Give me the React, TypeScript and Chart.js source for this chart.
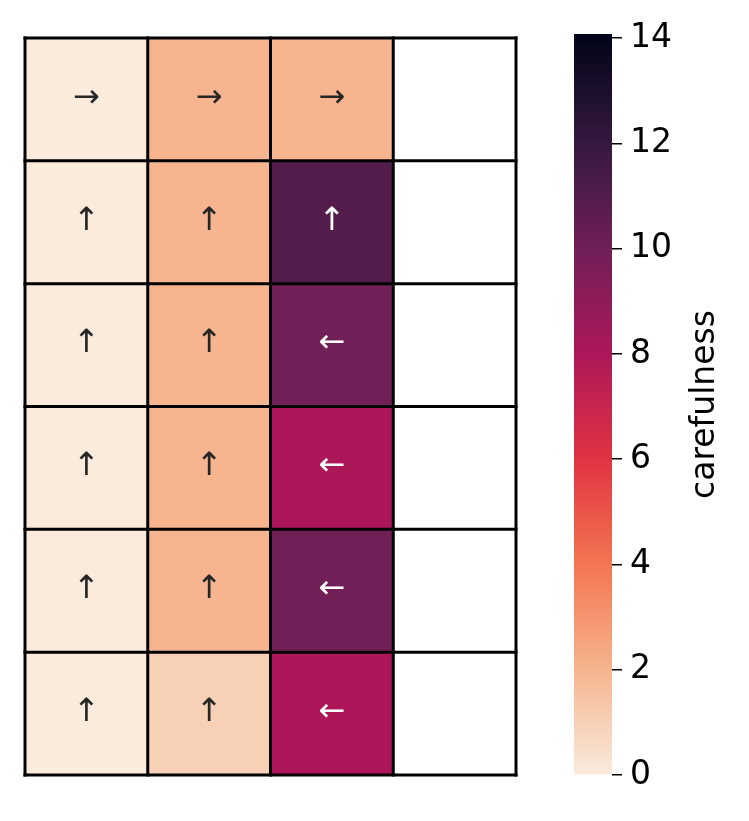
import React, { useEffect, useRef } from 'react';
import { Chart, registerables } from 'chart.js';

Chart.register(...registerables);

// ---- data ----
const columns = ['0', '1', '2', '3'];
const row0 = [0, 2, 2, NaN];
const row1 = [0, 2, 11, NaN];
const row2 = [0, 2, 10, NaN];
const row3 = [0, 2, 8, NaN];
const row4 = [0, 2, 10, NaN];
const row5 = [0, 1, 8, NaN];
const values = [row0, row1, row2, row3, row4, row5];

const arrows0 = ['→', '→', '→', ''];
const arrows1 = ['↑', '↑', '↑', ''];
const arrows2 = ['↑', '↑', '←', ''];
const arrows3 = ['↑', '↑', '←', ''];
const arrows4 = ['↑', '↑', '←', ''];
const arrows5 = ['↑', '↑', '←', ''];
const arrows = [arrows0, arrows1, arrows2, arrows3, arrows4, arrows5];

const vmin = 0;
const vmax = 14;
const cbTicks = [0, 2, 4, 6, 8, 10, 12, 14];
const cbTop = 14.08;
const cbLabel = 'carefulness';

// rocket colormap, dark -> light (rocket_r is reversed)
const rocketStops = ['#03051a', '#35193e', '#701f57', '#ad1759', '#e13342', '#f37651', '#f6b48f', '#faebdd'];

function hexToRgb(h: string): number[] {
  const s = h.replace('#', '');
  return [parseInt(s.slice(0, 2), 16), parseInt(s.slice(2, 4), 16), parseInt(s.slice(4, 6), 16)];
}

function rocketR(v: number): number[] {
  const t = Math.min(1, Math.max(0, (v - vmin) / (vmax - vmin)));
  const pos = (1 - t) * (rocketStops.length - 1);
  const i = Math.min(rocketStops.length - 2, Math.floor(pos));
  const f = pos - i;
  const a = hexToRgb(rocketStops[i]);
  const b = hexToRgb(rocketStops[i + 1]);
  return [0, 1, 2].map((k) => Math.round(a[k] + (b[k] - a[k]) * f));
}

function cellColor(v: number): string {
  if (Number.isNaN(v)) return '#ffffff';
  const c = rocketR(v);
  return `rgb(${c[0]},${c[1]},${c[2]})`;
}

function textColor(v: number): string {
  if (Number.isNaN(v)) return '#262626';
  const c = rocketR(v).map((x) => {
    const s = x / 255;
    return s <= 0.03928 ? s / 12.92 : Math.pow((s + 0.055) / 1.055, 2.4);
  });
  const lum = 0.2126 * c[0] + 0.7152 * c[1] + 0.0722 * c[2];
  return lum > 0.408 ? '#262626' : '#ffffff';
}

const gridPlugin = {
  id: 'cellGrid',
  afterDatasetsDraw(chart: any) {
    const ctx = chart.ctx;
    const xs = chart.scales.x;
    const ys = chart.scales.y;
    const area = chart.chartArea;
    ctx.save();
    ctx.strokeStyle = '#000000';
    ctx.lineWidth = 3;
    for (let j = 0; j <= columns.length; j++) {
      const px = xs.getPixelForValue(j - 0.5);
      ctx.beginPath();
      ctx.moveTo(px, area.top - 1.5);
      ctx.lineTo(px, area.bottom + 1.5);
      ctx.stroke();
    }
    for (let i = 0; i <= values.length; i++) {
      const py = ys.getPixelForValue(i);
      ctx.beginPath();
      ctx.moveTo(area.left - 1.5, py);
      ctx.lineTo(area.right + 1.5, py);
      ctx.stroke();
    }
    ctx.restore();
  },
};

const arrowPlugin = {
  id: 'arrowLabels',
  afterDatasetsDraw(chart: any) {
    const ctx = chart.ctx;
    ctx.save();
    ctx.font = '32px "DejaVu Sans"';
    ctx.textAlign = 'center';
    ctx.textBaseline = 'middle';
    values.forEach((row, i) => {
      const meta = chart.getDatasetMeta(i);
      row.forEach((v, j) => {
        const label = arrows[i][j];
        if (!label) return;
        const el = meta.data[j];
        const p = el.getProps(['x', 'y', 'base'], true);
        ctx.fillStyle = textColor(v);
        ctx.fillText(label, p.x, (p.y + p.base) / 2 - 1);
      });
    });
    ctx.restore();
  },
};

const cbTitlePlugin = {
  id: 'cbTitle',
  afterDraw(chart: any) {
    const { ctx, chartArea } = chart;
    ctx.save();
    ctx.font = '33px "DejaVu Sans"';
    ctx.fillStyle = '#000000';
    ctx.textAlign = 'center';
    ctx.textBaseline = 'middle';
    ctx.translate(chartArea.right + 93, (chartArea.top + chartArea.bottom) / 2);
    ctx.rotate(-Math.PI / 2);
    ctx.fillText(cbLabel, 0, 0);
    ctx.restore();
  },
};

export default function App() {
  const heatRef = useRef<HTMLCanvasElement | null>(null);
  const cbRef = useRef<HTMLCanvasElement | null>(null);

  useEffect(() => {
    const heat = new Chart(heatRef.current as HTMLCanvasElement, {
      type: 'bar',
      data: {
        labels: columns,
        datasets: values.map((row) => ({
          data: columns.map(() => 1),
          backgroundColor: row.map(cellColor),
          borderWidth: 0,
          barPercentage: 1,
          categoryPercentage: 1,
        })),
      },
      options: {
        responsive: false,
        animation: false,
        layout: { padding: { left: 25, top: 38, right: 233, bottom: 46 } },
        plugins: { legend: { display: false }, tooltip: { enabled: false } },
        scales: {
          x: { display: false, stacked: true },
          y: { display: false, stacked: true, reverse: true, min: 0, max: values.length },
        },
      } as any,
      plugins: [gridPlugin, arrowPlugin],
    });

    const cb = new Chart(cbRef.current as HTMLCanvasElement, {
      type: 'bar',
      data: {
        labels: ['cb'],
        datasets: [
          {
            data: [cbTop],
            backgroundColor: (c: any) => {
              const chart = c.chart;
              const area = chart.chartArea;
              if (!area) return rocketStops[0];
              const y = chart.scales.y;
              const g = chart.ctx.createLinearGradient(0, y.getPixelForValue(vmin), 0, y.getPixelForValue(vmax));
              const n = rocketStops.length - 1;
              for (let k = 0; k <= n; k++) {
                g.addColorStop(k / n, rocketStops[n - k]);
              }
              return g;
            },
            borderWidth: 0,
            barPercentage: 1,
            categoryPercentage: 1,
          },
        ],
      },
      options: {
        responsive: false,
        animation: false,
        layout: { padding: { left: 574, top: 34, right: 0, bottom: 46 } },
        plugins: { legend: { display: false }, tooltip: { enabled: false } },
        scales: {
          x: { display: false },
          y: {
            position: 'right',
            min: vmin,
            max: cbTop,
            afterBuildTicks: (axis: any) => {
              axis.ticks = cbTicks.map((v) => ({ value: v }));
            },
            afterFit: (axis: any) => {
              axis.width = 137;
            },
            ticks: {
              color: '#000000',
              font: { family: 'DejaVu Sans', size: 33 },
              padding: 8,
              callback: (v: any) => String(v),
            },
            grid: { drawOnChartArea: false, drawTicks: true, tickLength: 10, color: '#000000', lineWidth: 1.5 },
            border: { display: false },
          },
        },
      } as any,
      plugins: [cbTitlePlugin],
    });

    return () => {
      heat.destroy();
      cb.destroy();
    };
  }, []);

  const canvasStyle: React.CSSProperties = { position: 'absolute', left: 0, top: 0, width: 749, height: 821 };
  return (
    <div style={{ position: 'absolute', left: 0, top: 0, width: 749, height: 821, background: '#ffffff' }}>
      <canvas ref={heatRef} width={749} height={821} style={canvasStyle} />
      <canvas ref={cbRef} width={749} height={821} style={canvasStyle} />
    </div>
  );
}
